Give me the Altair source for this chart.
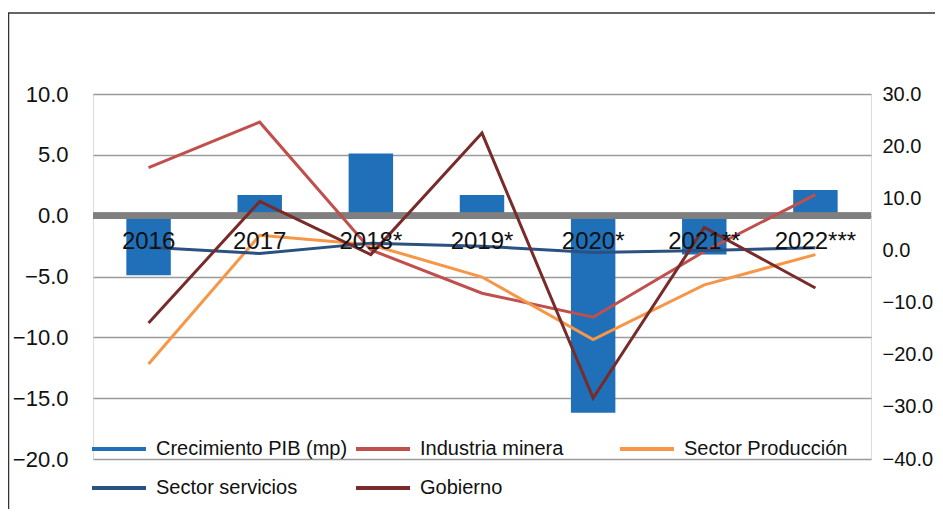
import altair as alt
import pandas as pd

cats = ["2016", "2017", "2018*", "2019*", "2020*", "2021**", "2022***"]
pib = [-4.9, 1.7, 5.1, 1.7, -16.2, -3.2, 2.1]
minera = [15.9, 24.6, 0.1, -8.2, -12.8, -0.2, 10.7]
produccion = [-21.8, 2.9, 1.1, -5.1, -17.1, -6.6, -0.8]
servicios = [0.6, -0.6, 1.4, 0.8, -0.4, 0.0, 0.5]
gobierno = [-13.9, 9.4, -0.8, 22.5, -28.3, 4.4, -7.2]

series_names = ["Crecimiento PIB (mp)", "Industria minera", "Sector Producción",
                "Sector servicios", "Gobierno"]
series_colors = ["#1F70B8", "#C0504D", "#F79646", "#2B5183", "#772C2A"]
left_ticks = [-20, -15, -10, -5, 0, 5, 10]
right_ticks = [-40, -30, -20, -10, 0, 10, 20, 30]

FONT = "Liberation Sans"

bar_df = pd.DataFrame({"cat": cats, "value": pib, "serie": series_names[0]})
line_rows = []
for name, vals in zip(series_names[1:], [minera, produccion, servicios, gobierno]):
    for c, v in zip(cats, vals):
        line_rows.append({"cat": c, "value": v, "serie": name})
line_df = pd.DataFrame(line_rows)

color = alt.Color(
    "serie:N",
    scale=alt.Scale(domain=series_names, range=series_colors),
    legend=alt.Legend(
        title=None, orient="none", legendX=-3, legendY=326, columns=3,
        direction="horizontal", gridAlign="all", columnPadding=0, rowPadding=-3,
        symbolType="stroke", symbolSize=2916, symbolStrokeWidth=4,
        labelFont=FONT, labelFontSize=20, labelColor="#111111", labelOffset=8,
        labelLimit=400,
    ),
)

x = alt.X(
    "cat:N", sort=cats, title=None,
    scale=alt.Scale(paddingInner=0.6, paddingOuter=0.3),
    axis=alt.Axis(labelAngle=0, domain=False, ticks=False, tickSize=0, offset=-232,
                  labelPadding=2, labelFont=FONT, labelFontSize=24,
                  labelColor="#111111", zindex=1, grid=False),
)

bars = alt.Chart(bar_df).mark_bar(cornerRadius=0).encode(
    x=x,
    y=alt.Y("value:Q", title=None,
            scale=alt.Scale(domain=[-20, 10], nice=False, zero=False),
            axis=alt.Axis(values=left_ticks, format=".1f", domain=False, ticks=False,
                          labelPadding=25, labelFont=FONT, labelFontSize=22,
                          labelColor="#111111", gridColor="#9A9A9A", gridWidth=1.3)),
    color=color,
)

zero_rule = alt.Chart(bar_df).mark_rule(color="#7F7F7F", strokeWidth=6).encode(
    y=alt.datum(0)
)

left = alt.layer(bars, zero_rule)

lines = alt.Chart(line_df).mark_line(strokeWidth=3).encode(
    x=x,
    y=alt.Y("value:Q", title=None,
            scale=alt.Scale(domain=[-40, 30], nice=False, zero=False),
            axis=alt.Axis(orient="right", values=right_ticks, format=".1f", grid=False,
                          domain=False, ticks=False, labelPadding=11, labelFont=FONT,
                          labelFontSize=20, labelColor="#111111")),
    color=color,
)

frame = alt.Chart(pd.DataFrame({"a": [0]})).mark_rect(
    fillOpacity=0, stroke="#333333", strokeWidth=1.5
).encode(
    x=alt.value(-84.5), x2=alt.value(1200), y=alt.value(-81), y2=alt.value(1200)
)

chart = alt.layer(left, lines, frame).resolve_scale(y="independent").properties(
    width=778, height=365,
    autosize=alt.AutoSizeParams(type="none"),
    padding={"left": 85, "top": 86, "right": 64, "bottom": 50},
).configure_view(stroke=None).configure(font=FONT)

chart.save("out.html", embed_options={"renderer": "svg", "actions": False})
